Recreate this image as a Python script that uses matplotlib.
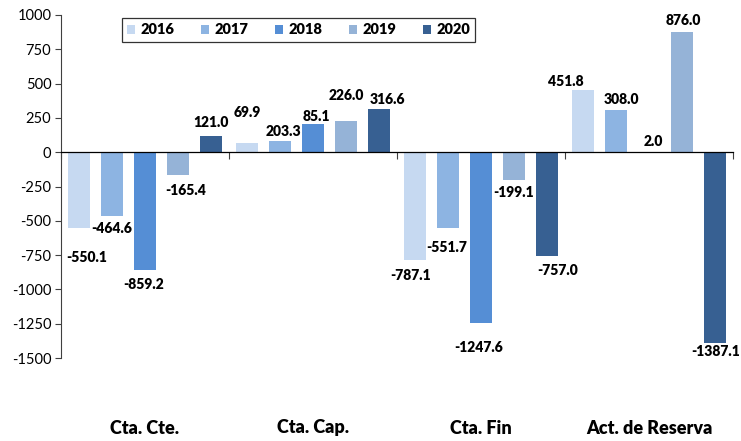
import matplotlib
matplotlib.use("Agg")
import matplotlib.pyplot as plt
import matplotlib.transforms as mtransforms
import numpy as np

# ---- data ----
categories = ["Cta. Cte.", "Cta. Cap.", "Cta. Fin", "Act. de Reserva"]
years = ["2016", "2017", "2018", "2019", "2020"]
v2016 = [-550.1, 69.9, -787.1, 451.8]
v2017 = [-464.6, 85.1, -551.7, 308.0]
v2018 = [-859.2, 203.3, -1247.6, 2.0]
v2019 = [-165.4, 226.0, -199.1, 876.0]
v2020 = [121.0, 316.6, -757.0, -1387.1]
# label texts as printed in the reference (per year, per category)
lab2016 = ["-550.1", "69.9", "-787.1", "451.8"]
lab2017 = ["-464.6", "203.3", "-551.7", "308.0"]
lab2018 = ["-859.2", "85.1", "-1247.6", "2.0"]
lab2019 = ["-165.4", "226.0", "-199.1", "876.0"]
lab2020 = ["121.0", "316.6", "-757.0", "-1387.1"]
yticks = [1000, 750, 500, 250, 0, -250, -500, -750, -1000, -1250, -1500]

series = [v2016, v2017, v2018, v2019, v2020]
labels = [lab2016, lab2017, lab2018, lab2019, lab2020]
colors = ["#C6D9F1", "#8DB4E2", "#558ED5", "#95B3D7", "#376092"]

# label offsets in pixels (dx, dy) from bar end (positive dy = up)
offsets = [
    [(8, -30), (0, 30), (-4, -15), (-17, 9)],
    [(0, -13), (3, 9), (-1, -20), (5, 10)],
    [(-1, -14), (3, 8), (-2, -24), (4, 10)],
    [(8, -16), (0, 26), (0, -13), (1, 12)],
    [(0, 13), (8, 9), (11, -14), (1, -9)],
]

W, H = 741, 441
fig = plt.figure(figsize=(W / 100, H / 100), dpi=100)
left, right, top, bottom = 61, 733, 15, 358
ax = fig.add_axes([left / W, (H - bottom) / H, (right - left) / W, (bottom - top) / H])

x = np.arange(len(categories))
bw = 22 / 168
step = 33 / 168
lab_font = "Lato"
heavy = "heavy"
for i, (vals, col) in enumerate(zip(series, colors)):
    xs = x + (i - 2) * step
    ax.bar(xs, vals, width=bw, color=col, label=years[i], zorder=2)
    for j, (xx, v) in enumerate(zip(xs, vals)):
        dx, dy = offsets[i][j]
        ax.annotate(labels[i][j], (xx, v), xytext=(dx, dy), textcoords="offset pixels",
                    ha="center", va="center", fontsize=10, fontweight=heavy,
                    family=lab_font, color="black", zorder=3)

ax.set_xlim(-0.5, len(categories) - 0.5)
ax.set_ylim(-1500, 1000)
ax.set_yticks(yticks)
ax.set_yticklabels([str(t) for t in yticks], family=lab_font, fontsize=10.5)
ax.tick_params(axis="y", direction="out", length=4, width=0.8, pad=3, colors="#404040",
               labelcolor="black")

ax.spines["top"].set_visible(False)
ax.spines["right"].set_visible(False)
ax.spines["bottom"].set_position(("data", 0))
ax.spines["bottom"].set_color("black")
ax.spines["bottom"].set_linewidth(0.9)
ax.spines["left"].set_color("#404040")
ax.spines["left"].set_linewidth(0.8)
ax.set_xticks(np.arange(len(categories) + 1) - 0.5)
ax.set_xticklabels([])
ax.tick_params(axis="x", direction="out", length=5, width=0.8, colors="#404040")

trans = mtransforms.blended_transform_factory(ax.transData, ax.transAxes)
for j, c in enumerate(categories):
    ax.text(x[j], (bottom - 428) / (bottom - top), c, transform=trans, ha="center", va="center",
            fontsize=13, fontweight=heavy, family=lab_font, color="black")

leg = fig.legend(loc="center", bbox_to_anchor=(298.5 / W, (H - 30) / H), ncol=5,
                 prop={"family": lab_font, "weight": heavy, "size": 10.5},
                 frameon=True, fancybox=False, handlelength=0.6, handleheight=0.6,
                 handletextpad=0.35, columnspacing=1.8, borderpad=0.35, borderaxespad=0)
leg.get_frame().set_edgecolor("black")
leg.get_frame().set_linewidth(0.9)

fig.savefig("out.png", dpi=100)
